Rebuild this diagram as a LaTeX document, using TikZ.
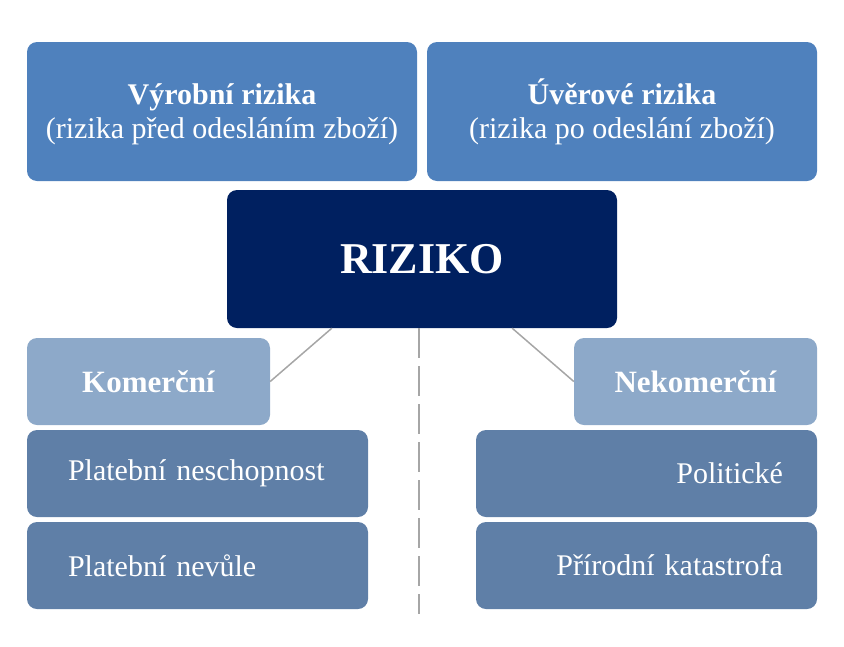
\documentclass[tikz,border=0pt]{standalone}
\usepackage{fontspec}
\setmainfont{Liberation Serif}
\usetikzlibrary{calc}
\definecolor{topblue}{HTML}{4F81BD}
\definecolor{navy}{HTML}{002060}
\definecolor{lightblue}{HTML}{8DA9C9}
\definecolor{midblue}{HTML}{5F7FA7}
\definecolor{linegray}{HTML}{A6A6A6}
\tikzset{
  box/.style={rectangle, rounded corners=10pt, text=white, inner sep=0pt, align=center},
  topbox/.style={box, fill=topblue, minimum width=390pt, minimum height=139pt, font=\fontsize{30}{34}\selectfont},
  mainbox/.style={box, fill=navy, minimum width=390pt, minimum height=138pt, font=\fontsize{44}{50}\selectfont\bfseries},
  catbox/.style={box, fill=lightblue, minimum width=243pt, minimum height=87pt, font=\fontsize{31}{36}\selectfont\bfseries},
  leafl/.style={box, fill=midblue, minimum width=341pt, minimum height=87pt, inner xsep=41pt, text width=259pt, align=left, font=\fontsize{30}{34}\selectfont},
  leafr/.style={box, fill=midblue, minimum width=341pt, minimum height=87pt, inner xsep=34pt, text width=273pt, align=right, font=\fontsize{30}{34}\selectfont},
  conn/.style={draw=linegray, line width=1.5pt},
  divider/.style={draw=linegray, line width=2pt, dash pattern=on 30pt off 8pt}
}
\begin{document}
\begin{tikzpicture}[x=1pt, y=-1pt]
\useasboundingbox (0,0) rectangle (844,646);
\node[topbox] (vyr) at (222,111.5) {\vphantom{\textbf{Ú}}\textbf{Výrobní rizika}\\(rizika před odesláním zboží)};
\node[topbox] (uve) at (622,111.5) {\vphantom{\textbf{Ú}}\textbf{Úvěrové rizika}\\(rizika po odeslání zboží)};
\node[mainbox] (riz) at (422,259) {RIZIKO};
\node[catbox] (kom) at (148.5,381.5) {Komerční};
\node[catbox] (nek) at (695.5,381.5) {Nekomerční};
\node[leafl] (pn) at (197.5,473.5) {Platební neschopnost};
\node[leafl] (pv) at (197.5,565.5) {Platební nevůle};
\node[leafr] (pol) at (646.5,473.5) {Politické};
\node[leafr] (pk) at (646.5,565.5) {Přírodní katastrofa};
\coordinate (divtop) at ($(riz.south)+(-3,0)$);
\coordinate (divbot) at (419,614);
\draw[conn] ($(riz.south west)!0.269!(riz.south east)$) -- (kom.east);
\draw[conn] ($(riz.south west)!0.731!(riz.south east)$) -- (nek.west);
\draw[divider] (divtop) -- (divbot);
\end{tikzpicture}
\end{document}
